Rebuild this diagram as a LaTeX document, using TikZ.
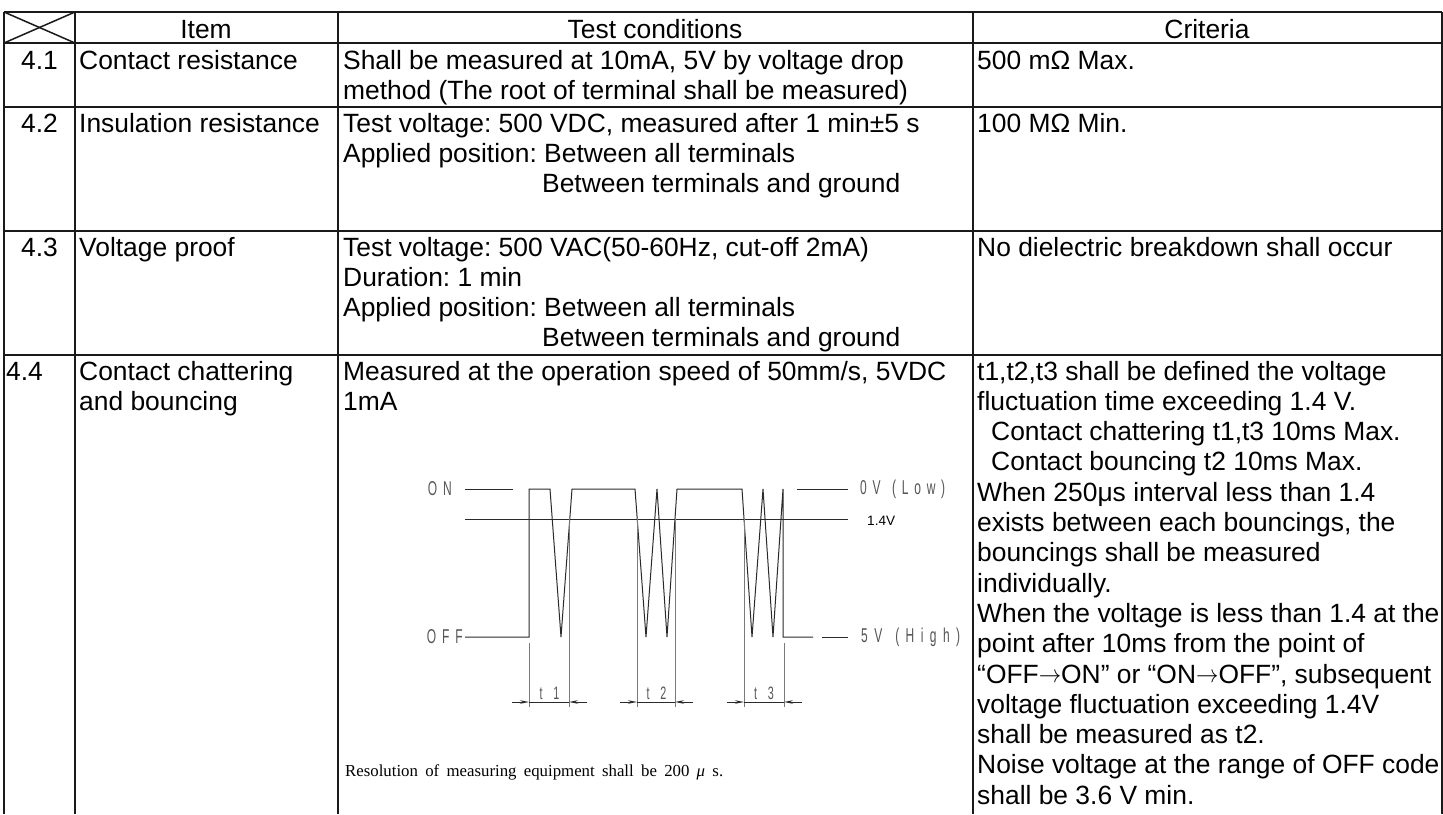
\documentclass[tikz,border=0pt]{standalone}
\usepackage{fontspec}
\setmainfont{Liberation Sans}
\newfontfamily\capfont{Liberation Serif}
\usepackage{graphicx}
\usetikzlibrary{arrows.meta}

\definecolor{gridc}{HTML}{1A1A1A}
\definecolor{wavec}{HTML}{2A2A2A}
\definecolor{lblc}{HTML}{555555}
\definecolor{extc}{HTML}{7A7A7A}

\newcommand{\narrowlbl}[2]{\scalebox{0.6}[1]{\makebox[#1][s]{#2}}}
\newcommand{\toarrow}{\raisebox{0.6pt}{\scalebox{0.9}[1]{$\rightarrow$}}}

\begin{document}
\frenchspacing
\begin{tikzpicture}[x=1pt,y=-1pt,
  txt/.style={anchor=base west,inner sep=0pt,font=\fontsize{26.4}{30.3}\selectfont\frenchspacing},
  ctxt/.style={anchor=base,inner sep=0pt,font=\fontsize{26.4}{30.3}\selectfont\frenchspacing},
  gridline/.style={line width=1.5pt,draw=gridc},
  wavel/.style={line width=1pt,draw=wavec},
  extl/.style={line width=1pt,draw=extc},
  wlabel/.style={inner sep=0pt,text=lblc,font=\fontsize{20}{20}\selectfont},
  dimarrow/.style={line width=0.9pt,draw=wavec,-{Stealth[length=9pt,width=3.5pt]}},
]
\fill[white] (0,0) rectangle (1443,814);
\useasboundingbox (0,0) rectangle (1443,814);

% ---------- grid ----------
\foreach \yy in {12,43,107,231,355} \draw[gridline] (4,\yy) -- (1442,\yy);
\foreach \xx in {4,75,338,973,1442} \draw[gridline] (\xx,12) -- (\xx,814);
\draw[gridline] (4,12) -- (75,43);
\draw[gridline] (4,43) -- (75,12);

% ---------- header ----------
\node[ctxt] (hitem) at (206,38) {Item};
\node[ctxt] (hcond) at (655,38) {Test conditions};
\node[ctxt] (hcrit) at (1207,38) {Criteria};

% ---------- 4.1 ----------
\node[ctxt] (n41) at (39.5,69) {4.1};
\node[txt] (i41) at (79,69) {Contact resistance};
\node[txt] (c41a) at (343,69) {Shall be measured at 10mA, 5V by voltage drop};
\node[txt] (c41b) at (343,99.3) {method (The root of terminal shall be measured)};
\node[txt] (r41) at (977,69) {500 mΩ Max.};

% ---------- 4.2 ----------
\node[ctxt] (n42) at (39.5,132) {4.2};
\node[txt] (i42) at (79,132) {Insulation resistance};
\node[txt] (c42a) at (343,132) {Test voltage: 500 VDC, measured after 1 min±5 s};
\node[txt] (c42b) at (343,162.3) {Applied position: Between all terminals};
\node[txt] (c42c) at (542,192.6) {Between terminals and ground};
\node[txt] (r42) at (977,132) {100 MΩ Min.};

% ---------- 4.3 ----------
\node[ctxt] (n43) at (39.5,256) {4.3};
\node[txt] (i43) at (79,256) {Voltage proof};
\node[txt] (c43a) at (343,256) {Test voltage: 500 VAC(50-60Hz, cut-off 2mA)};
\node[txt] (c43b) at (343,286.3) {Duration: 1 min};
\node[txt] (c43c) at (343,316.6) {Applied position: Between all terminals};
\node[txt] (c43d) at (542,346.9) {Between terminals and ground};
\node[txt] (r43) at (977,256) {No dielectric breakdown shall occur};

% ---------- 4.4 ----------
\node[txt] (n44) at (6,380) {4.4};
\node[txt] (i44a) at (79,380) {Contact chattering};
\node[txt] (i44b) at (79,410.3) {and bouncing};
\node[txt] (c44a) at (343,380) {Measured at the operation speed of 50mm/s, 5VDC};
\node[txt] (c44b) at (343,410.3) {1mA};

\node[txt] (r44a) at (977,380) {t1,t2,t3 shall be defined the voltage};
\node[txt] (r44b) at (977,410.3) {fluctuation time exceeding 1.4 V.};
\node[txt] (r44c) at (991,440.6) {Contact chattering t1,t3 10ms Max.};
\node[txt] (r44d) at (991,470.9) {Contact bouncing t2 10ms Max.};
\node[txt] (r44e) at (977,501.2) {When 250μs interval less than 1.4};
\node[txt] (r44f) at (977,531.5) {exists between each bouncings, the};
\node[txt] (r44g) at (977,561.8) {bouncings shall be measured};
\node[txt] (r44h) at (977,592.1) {individually.};
\node[txt] (r44i) at (977,622.4) {When the voltage is less than 1.4 at the};
\node[txt] (r44j) at (977,652.7) {point after 10ms from the point of};
\node[txt] (r44k) at (977,683) {“OFF\toarrow ON” or “ON\toarrow OFF”, subsequent};
\node[txt] (r44l) at (977,713.3) {voltage fluctuation exceeding 1.4V};
\node[txt] (r44m) at (977,743.6) {shall be measured as t2.};
\node[txt] (r44n) at (977,773.9) {Noise voltage at the range of OFF code};
\node[txt] (r44o) at (977,804.2) {shall be 3.6 V min.};

% ---------- waveform ----------
\draw[wavel] (465,489) -- (513,489);
\draw[wavel] (797,489) -- (848,489);
\draw[wavel] (465,519) -- (848,519);
\draw[wavel] (465,637) -- (529,637) -- (529,489) -- (550,489) -- (561,637) -- (572,489)
  -- (635,489) -- (646,637) -- (657,489) -- (667,637) -- (677,489)
  -- (742,489) -- (752,637) -- (763,489) -- (773,637) -- (783,489) -- (783,637) -- (813,637);
\draw[wavel] (822,637) -- (848,637);

\node[wlabel,anchor=east] (lon) at (452,489) {\narrowlbl{40pt}{O\hfil N}};
\node[wlabel,anchor=east] (loff) at (463,637) {\narrowlbl{60pt}{O\hfil F\hfil F}};
\node[wlabel,anchor=west] (llow) at (860,489) {\narrowlbl{141.7pt}{0\hfil V\hfil\hfil (\hfil L\hfil o\hfil w\hfil )}};
\node[wlabel,anchor=west] (lhigh) at (861,637) {\narrowlbl{165pt}{5\hfil V\hfil\hfil (\hfil H\hfil i\hfil g\hfil h\hfil )}};
\node[anchor=west,inner sep=0pt,font=\fontsize{13.6}{14}\selectfont] (l14) at (867,521) {1.4V};

% extension lines
\draw[extl] (529,643) -- (529,707);
\draw[extl] (569,519) -- (569,707);
\draw[extl] (637,519) -- (637,707);
\draw[extl] (675,519) -- (675,707);
\draw[extl] (744,519) -- (744,707);
\draw[extl] (784,643) -- (784,707);

% dimension lines
\draw[wavel] (529,702) -- (569,702);
\draw[dimarrow] (512,702) -- (529,702);
\draw[dimarrow] (587,702) -- (569,702);
\draw[wavel] (637,702) -- (675,702);
\draw[dimarrow] (620,702) -- (637,702);
\draw[dimarrow] (693,702) -- (675,702);
\draw[wavel] (744,702) -- (784,702);
\draw[dimarrow] (727,702) -- (744,702);
\draw[dimarrow] (802,702) -- (784,702);

\node[wlabel,anchor=base,font=\fontsize{18}{18}\selectfont] (lt1) at (549.5,699) {\narrowlbl{33pt}{t\hfil 1}};
\node[wlabel,anchor=base,font=\fontsize{18}{18}\selectfont] (lt2) at (656.5,699) {\narrowlbl{33pt}{t\hfil 2}};
\node[wlabel,anchor=base,font=\fontsize{18}{18}\selectfont] (lt3) at (764,699) {\narrowlbl{33pt}{t\hfil 3}};

\node[anchor=base west,inner sep=0pt,font=\capfont\fontsize{16.8}{17}\selectfont] (capt) at (345,776)
  {\makebox[378pt][s]{Resolution of measuring equipment shall be 200 {\itshape μ} s.}};
\end{tikzpicture}
\end{document}
